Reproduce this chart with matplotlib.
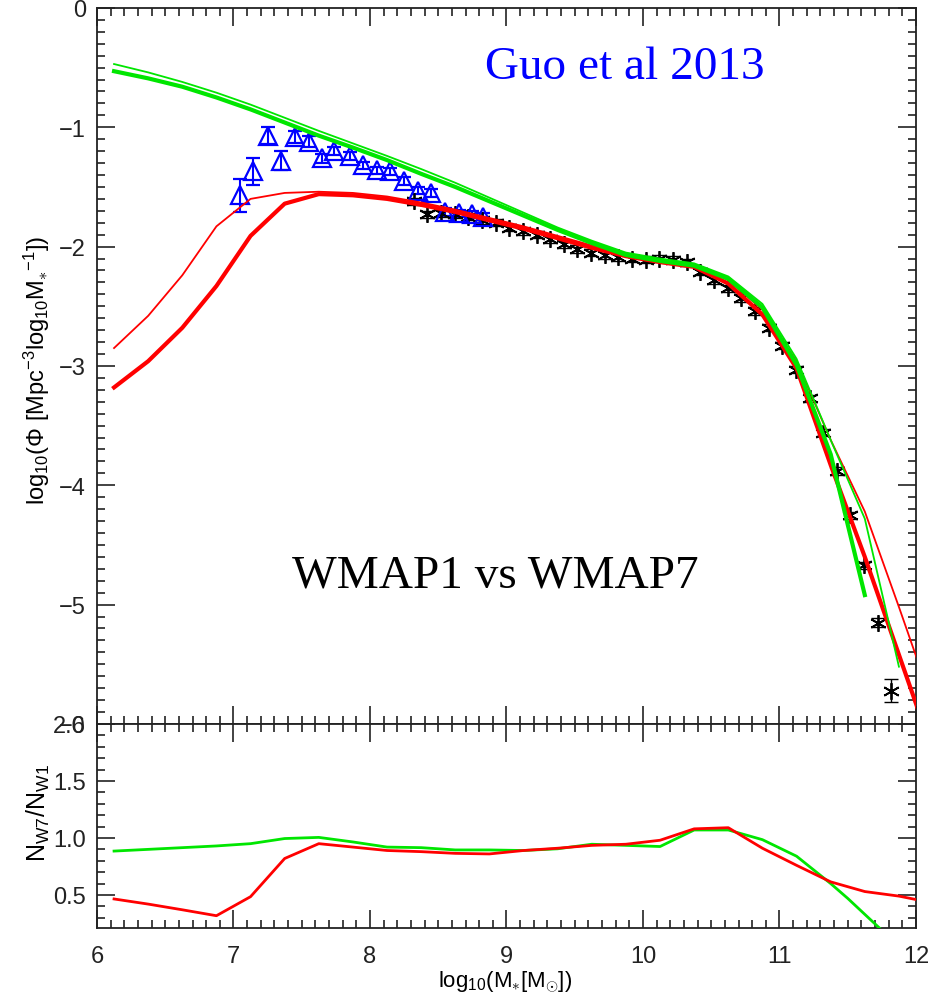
import matplotlib
matplotlib.use("Agg")
import matplotlib.pyplot as plt
from matplotlib.ticker import MultipleLocator

plt.rcParams['font.family'] = ['Liberation Sans', 'DejaVu Sans']
plt.rcParams['mathtext.fontset'] = 'custom'
plt.rcParams['mathtext.rm'] = 'Liberation Sans'
plt.rcParams['mathtext.it'] = 'Liberation Sans'

# ---- model stellar mass functions (log10 phi) ----
model_x = [6.125, 6.375, 6.625, 6.875, 7.125, 7.375, 7.625, 7.875, 8.125, 8.375,
           8.625, 8.875, 9.125, 9.375, 9.625, 9.875, 10.125, 10.375, 10.625, 10.875,
           11.125, 11.375, 11.625, 11.875, 12.125]

red_w7 = [-3.18, -2.96, -2.68, -2.33, -1.91, -1.64, -1.56, -1.57, -1.60, -1.65,
          -1.71, -1.78, -1.85, -1.93, -2.01, -2.08, -2.13, -2.17, -2.31, -2.57,
          -3.02, -3.83, -4.60, -5.42, -6.24]
red_w1 = [-2.85, -2.58, -2.24, -1.83, -1.60, -1.55, -1.54, -1.55, -1.58, -1.63,
          -1.69, -1.76, -1.83, -1.91, -1.99, -2.06, -2.12, -2.15, -2.28, -2.53,
          -2.96, -3.62, -4.22, -5.02, -5.84]

green_x = model_x[:23]
green_w7 = [-0.53, -0.59, -0.66, -0.75, -0.85, -0.96, -1.07, -1.17, -1.275, -1.39,
            -1.50, -1.62, -1.74, -1.86, -1.97, -2.07, -2.12, -2.16, -2.27, -2.51,
            -2.99, -3.74, -4.92]
green_w1_x = model_x[:24]
green_w1 = [-0.47, -0.54, -0.62, -0.71, -0.81, -0.92, -1.03, -1.135, -1.24, -1.35,
            -1.465, -1.59, -1.715, -1.84, -1.95, -2.05, -2.10, -2.14, -2.25, -2.48,
            -2.94, -3.62, -4.28, -5.52]

# ---- observations ----
blue_x = [7.05, 7.14, 7.25, 7.35, 7.45, 7.55, 7.65, 7.74, 7.85, 7.95, 8.05, 8.15,
          8.25, 8.35, 8.45, 8.55, 8.65, 8.75, 8.83]
blue_y = [-1.57, -1.37, -1.07, -1.28, -1.08, -1.12, -1.26, -1.20, -1.24, -1.32,
          -1.36, -1.37, -1.45, -1.53, -1.55, -1.71, -1.72, -1.73, -1.75]
blue_err = [0.14, 0.11, 0.07, 0.08, 0.05, 0.045, 0.04, 0.035, 0.035, 0.03, 0.03, 0.03,
            0.03, 0.03, 0.03, 0.03, 0.03, 0.03, 0.03]

black_x = [8.32, 8.42, 8.52, 8.62, 8.72, 8.82, 8.92, 9.02, 9.12, 9.22, 9.32, 9.42,
           9.52, 9.62, 9.72, 9.82, 9.92, 10.02, 10.12, 10.22, 10.32, 10.42, 10.52,
           10.62, 10.72, 10.82, 10.92, 11.02, 11.12, 11.22, 11.32, 11.42, 11.52,
           11.62, 11.72, 11.82]
black_y = [-1.62, -1.73, -1.72, -1.73, -1.75, -1.78, -1.80, -1.84, -1.87, -1.90,
           -1.94, -1.98, -2.02, -2.05, -2.07, -2.09, -2.10, -2.11, -2.10, -2.11,
           -2.13, -2.21, -2.28, -2.35, -2.43, -2.54, -2.68, -2.83, -3.03, -3.27,
           -3.56, -3.88, -4.25, -4.67, -5.15, -5.72]
black_err = [0.03] * 34 + [0.04, 0.10]

# ---- ratio panel ----
ratio_red = [0.465, 0.42, 0.37, 0.318, 0.485, 0.82, 0.95, 0.92, 0.89, 0.88,
             0.865, 0.86, 0.89, 0.91, 0.935, 0.945, 0.98, 1.08, 1.09, 0.91,
             0.76, 0.615, 0.53, 0.49, 0.43]
ratio_green_x = [6.125, 6.375, 6.625, 6.875, 7.125, 7.375, 7.625, 7.875, 8.125, 8.375,
                 8.625, 8.875, 9.125, 9.375, 9.625, 9.875, 10.125, 10.375, 10.625,
                 10.875, 11.125, 11.375, 11.5, 11.625, 11.75]
ratio_green = [0.885, 0.90, 0.915, 0.93, 0.95, 0.995, 1.005, 0.965, 0.92, 0.915,
               0.895, 0.895, 0.89, 0.905, 0.945, 0.935, 0.925, 1.07, 1.07,
               0.985, 0.84, 0.60, 0.47, 0.33, 0.19]

RED = '#ff0000'
GREEN = '#00e600'
BLUE = '#0000ff'

fig = plt.figure(figsize=(9.29, 9.95), dpi=100)
left, right = 0.1044, 0.986
ax1 = fig.add_axes([left, 0.2714, right - left, 0.991 - 0.2714])
ax2 = fig.add_axes([left, 0.0663, right - left, 0.2714 - 0.0663])

# observational points
ax1.errorbar(blue_x, blue_y, yerr=blue_err, fmt='^', mfc='none', mec=BLUE, ecolor=BLUE,
             ms=13, mew=1.6, elinewidth=1.5, capsize=5, capthick=1.5, zorder=2)
ax1.errorbar(black_x, black_y, yerr=black_err, fmt='none', ecolor='black',
             elinewidth=1.0, capsize=5, capthick=1.0, zorder=2)
ax1.plot(black_x, black_y, ls='none', marker=(6, 2, 0), ms=12, mec='black', mew=1.3,
         zorder=2)

# model curves
ax1.plot(model_x, red_w1, color=RED, lw=1.3, zorder=3)
ax1.plot(model_x, red_w7, color=RED, lw=3.0, zorder=3)
ax1.plot(green_w1_x, green_w1, color=GREEN, lw=1.3, zorder=4)
ax1.plot(green_x, green_w7, color=GREEN, lw=3.0, zorder=4)

ax1.set_xlim(6, 12)
ax1.set_ylim(-6, 0)
ax1.set_yticks([0, -1, -2, -3, -4, -5, -6])
ax1.yaxis.set_minor_locator(MultipleLocator(0.1))
ax1.xaxis.set_major_locator(MultipleLocator(1))
ax1.xaxis.set_minor_locator(MultipleLocator(0.1))
ax1.tick_params(labelbottom=False)
ax1.set_ylabel(r'log$_{10}$($\Phi$ [Mpc$^{-3}$log$_{10}$M$_{\ast}$$^{-1}$])', fontsize=17)
ax1.yaxis.set_label_coords(-0.055, 0.496)

ax1.text(0.645, 0.918, 'Guo et al 2013', transform=ax1.transAxes, color=BLUE,
         fontsize=34, family='Liberation Serif', ha='center', va='center')
ax1.text(0.486, 0.207, 'WMAP1 vs WMAP7', transform=ax1.transAxes, color='black',
         fontsize=34, family='Liberation Serif', ha='center', va='center')

ax2.plot(ratio_green_x, ratio_green, color=GREEN, lw=2.0, zorder=3)
ax2.plot(model_x, ratio_red, color=RED, lw=2.0, zorder=3)
ax2.set_xlim(6, 12)
ax2.set_ylim(0.21, 2.0)
ax2.set_yticks([0.5, 1.0, 1.5, 2.0])
ax2.yaxis.set_minor_locator(MultipleLocator(0.1))
ax2.xaxis.set_major_locator(MultipleLocator(1))
ax2.xaxis.set_minor_locator(MultipleLocator(0.1))
ax2.set_ylabel(r'N$_{W7}$/N$_{W1}$', fontsize=18)
ax2.yaxis.set_label_coords(-0.055, 0.57)
ax2.set_xlabel(r'log$_{10}$(M$_{\ast}$[M$_{\odot}$])', fontsize=16)
ax2.xaxis.set_label_coords(0.498, -0.2)

for ax in (ax1, ax2):
    ax.tick_params(which='both', direction='in', top=True, right=True, labelsize=17,
                   width=1.2, colors='#222222')
    ax.tick_params(which='major', length=13)
    ax.tick_params(which='minor', length=6)
    ax.tick_params(axis='x', pad=12)
    ax.tick_params(axis='y', pad=8)
    for sp in ax.spines.values():
        sp.set_linewidth(1.3)
        sp.set_color('#222222')

fig.savefig('out.png', dpi=100)
